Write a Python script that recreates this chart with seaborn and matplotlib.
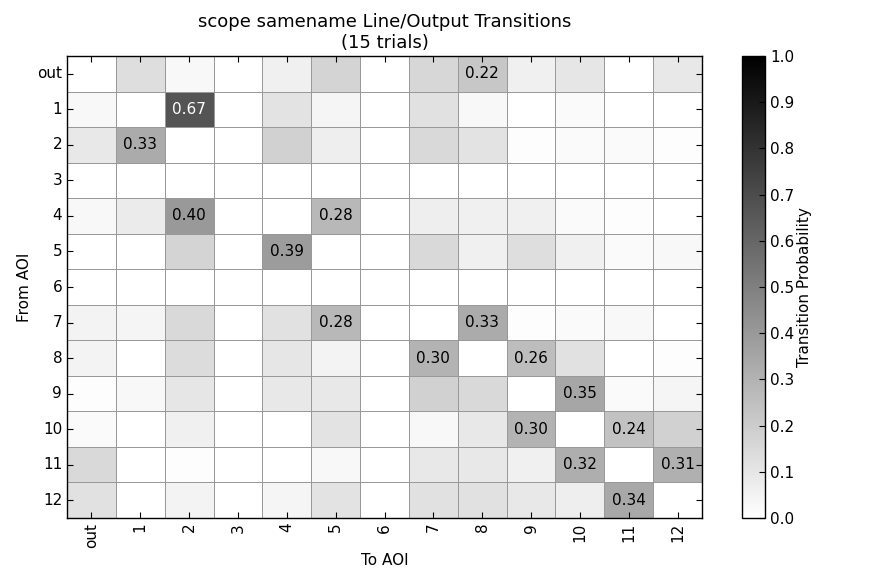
import numpy as np
import pandas as pd
import matplotlib
matplotlib.use("Agg")
import matplotlib.pyplot as plt
import seaborn as sns

# AOI labels
aois = ["out", "1", "2", "3", "4", "5", "6", "7", "8", "9", "10", "11", "12"]

# transition probabilities, one row per "from" AOI
row_out = [0.00, 0.13, 0.03, 0.00, 0.06, 0.17, 0.00, 0.16, 0.22, 0.06, 0.10, 0.00, 0.09]
row_1 = [0.03, 0.00, 0.67, 0.00, 0.11, 0.04, 0.00, 0.12, 0.03, 0.00, 0.02, 0.00, 0.00]
row_2 = [0.09, 0.33, 0.00, 0.00, 0.18, 0.07, 0.00, 0.15, 0.11, 0.01, 0.02, 0.02, 0.01]
row_3 = [0.00, 0.00, 0.00, 0.00, 0.00, 0.00, 0.00, 0.00, 0.00, 0.00, 0.00, 0.00, 0.00]
row_4 = [0.03, 0.08, 0.40, 0.00, 0.00, 0.28, 0.00, 0.07, 0.06, 0.06, 0.02, 0.01, 0.00]
row_5 = [0.00, 0.00, 0.17, 0.00, 0.39, 0.00, 0.00, 0.15, 0.06, 0.13, 0.06, 0.02, 0.03]
row_6 = [0.00, 0.00, 0.00, 0.00, 0.00, 0.00, 0.00, 0.00, 0.00, 0.00, 0.00, 0.00, 0.00]
row_7 = [0.05, 0.04, 0.15, 0.00, 0.12, 0.28, 0.00, 0.00, 0.33, 0.01, 0.02, 0.03, 0.00]
row_8 = [0.05, 0.00, 0.14, 0.00, 0.10, 0.05, 0.00, 0.30, 0.00, 0.26, 0.12, 0.00, 0.01]
row_9 = [0.01, 0.03, 0.10, 0.00, 0.09, 0.09, 0.00, 0.18, 0.15, 0.00, 0.35, 0.02, 0.04]
row_10 = [0.02, 0.00, 0.06, 0.00, 0.00, 0.11, 0.00, 0.03, 0.09, 0.30, 0.00, 0.24, 0.18]
row_11 = [0.15, 0.00, 0.01, 0.00, 0.00, 0.03, 0.00, 0.09, 0.09, 0.06, 0.32, 0.00, 0.31]
row_12 = [0.12, 0.00, 0.05, 0.00, 0.04, 0.11, 0.00, 0.12, 0.12, 0.09, 0.07, 0.34, 0.00]

rows = [row_out, row_1, row_2, row_3, row_4, row_5, row_6,
        row_7, row_8, row_9, row_10, row_11, row_12]
df = pd.DataFrame(rows, index=aois, columns=aois)

title = "scope samename Line/Output Transitions\n(15 trials)"

# classic-looking ticks: inward, on all four sides
plt.rcParams.update({
    "font.family": ["DejaVu Sans"],
    "xtick.direction": "in",
    "ytick.direction": "in",
    "xtick.top": True,
    "ytick.right": True,
    "xtick.major.size": 4,
    "ytick.major.size": 4,
    "xtick.labelsize": 11,
    "ytick.labelsize": 11,
})

W, H = 877, 585
fig = plt.figure(figsize=(W / 100, H / 100), dpi=100)
ax = fig.add_axes([67 / W, 1 - 518 / H, 635 / W, 462 / H])
cax = fig.add_axes([742 / W, 1 - 518 / H, 23 / W, 462 / H])

sns.heatmap(df, ax=ax, cbar_ax=cax, cmap="gray_r", vmin=0, vmax=1,
            linewidths=0.5, linecolor="#999999", square=False,
            cbar_kws={"ticks": np.arange(0, 1.01, 0.1)})

# annotate only the larger transitions
for i, r in enumerate(rows):
    for j, v in enumerate(r):
        if v >= 0.2:
            ax.text(j + 0.5, i + 0.5, f"{v:.2f}", ha="center", va="center",
                    fontsize=11, color="white" if v > 0.5 else "black")

ax.set_title(title, fontsize=13)
ax.set_xlabel("To AOI", fontsize=11)
ax.set_ylabel("From AOI", fontsize=11)
ax.set_xticklabels(aois, rotation=90)
ax.set_yticklabels(aois, rotation=0)
ax.tick_params(axis="both", which="both", length=4, color="black")
for s in ax.spines.values():
    s.set_visible(True)
    s.set_color("black")
    s.set_linewidth(1)

cbar = ax.collections[0].colorbar
cbar.set_ticklabels([f"{t:.1f}" for t in np.arange(0, 1.01, 0.1)])
cbar.ax.tick_params(labelsize=11, direction="in", length=4)
cbar.outline.set_edgecolor("black")
cbar.outline.set_linewidth(1)
cbar.set_label("Transition Probability", fontsize=11, labelpad=2)

fig.savefig("out.png", dpi=100)
